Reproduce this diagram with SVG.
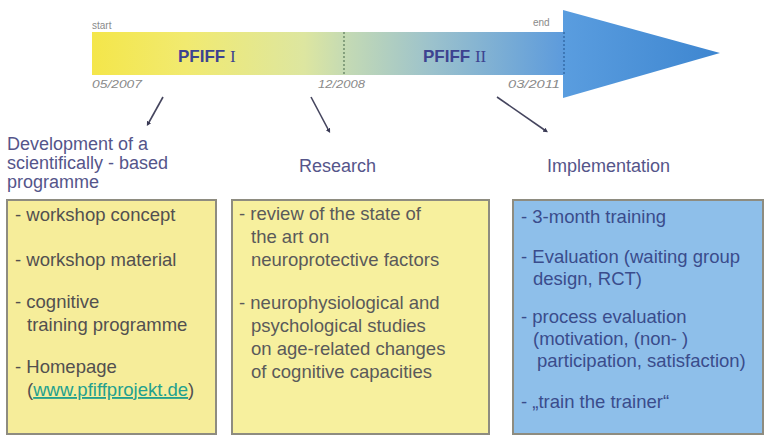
<svg xmlns="http://www.w3.org/2000/svg" width="764" height="436" viewBox="0 0 764 436">
<style>
text{font-family:"Liberation Sans",Arial,sans-serif}
.tl{font-size:10px;fill:#8a8a8a}
.dt{font-size:11px;fill:#8a8a8a;font-style:italic}
.ph{font-size:17px;font-weight:bold;fill:#3d4390}
.rn{font-family:"Liberation Serif","Times New Roman",serif;font-weight:normal}
.hd{font-size:18px;fill:#55558a}
.bx{font-size:18.5px}
.y1{fill:#525050}
.y2{fill:#5a5a5a}
.b3{fill:#3a4c8c}
.link{fill:#23a08e;text-decoration:underline}
.box{stroke:#8e8c80;stroke-width:2}
.con{stroke:#45455e;stroke-width:1.6;fill:none;marker-end:url(#ah)}
</style>
<defs>
<linearGradient id="band" x1="92" y1="0" x2="563" y2="0" gradientUnits="userSpaceOnUse">
<stop offset="0" stop-color="#f4e64a"/>
<stop offset="0.2" stop-color="#f1ea70"/>
<stop offset="0.45" stop-color="#dde6a0"/>
<stop offset="0.54" stop-color="#c4dab4"/>
<stop offset="0.72" stop-color="#9cc2cc"/>
<stop offset="1" stop-color="#5d9bdc"/>
</linearGradient>
<linearGradient id="head" x1="563" y1="0" x2="720" y2="0" gradientUnits="userSpaceOnUse">
<stop offset="0" stop-color="#5a9ddf"/>
<stop offset="1" stop-color="#3e86d0"/>
</linearGradient>
<marker id="ah" viewBox="0 0 6 6" refX="3" refY="3" markerWidth="3" markerHeight="3" orient="auto">
<path d="M0,0 L6,3 L0,6 z" fill="#3a3a55"/>
</marker>
</defs>

<g id="timeline">
<rect x="92" y="32" width="472" height="43" fill="url(#band)"/>
<polygon points="563,10 720,53 563,98" fill="url(#head)"/>
<line x1="344" y1="32" x2="344" y2="75" stroke="#5a7a5a" stroke-width="1.2" stroke-dasharray="2,2"/>
<line x1="564" y1="32" x2="564" y2="75" stroke="#2e5f9a" stroke-width="1.2" stroke-dasharray="2,2"/>
<text class="tl" x="92" y="29">start</text>
<text class="tl" x="533" y="26">end</text>
<text class="dt" x="92" y="88" textLength="50" lengthAdjust="spacingAndGlyphs">05/2007</text>
<text class="dt" x="318" y="88" textLength="47" lengthAdjust="spacingAndGlyphs">12/2008</text>
<text class="dt" x="508" y="88" textLength="52" lengthAdjust="spacingAndGlyphs">03/2011</text>
<text class="ph" x="178" y="62">PFIFF <tspan class="rn">I</tspan></text>
<text class="ph" x="423" y="62">PFIFF <tspan class="rn">II</tspan></text>
</g>

<g id="connectors">
<line class="con" x1="163" y1="97" x2="148" y2="124"/>
<line class="con" x1="311" y1="97" x2="329" y2="131"/>
<line class="con" x1="497" y1="97" x2="546" y2="131"/>
</g>

<g id="development">
<text class="hd" x="7" y="150">Development of a</text>
<text class="hd" x="7" y="169">scientifically - based</text>
<text class="hd" x="7" y="188">programme</text>
<rect class="box" x="7" y="200" width="209" height="234" fill="#f6ed9a"/>
<text class="bx y1" x="15" y="221">- workshop concept</text>
<text class="bx y1" x="15" y="266">- workshop material</text>
<text class="bx y1" x="15" y="308">- cognitive</text>
<text class="bx y1" x="27" y="331">training programme</text>
<text class="bx y1" x="15" y="373">- Homepage</text>
<text class="bx y1" x="27" y="396">(<tspan class="link">www.pfiffprojekt.de</tspan>)</text>
</g>

<g id="research">
<text class="hd" x="299" y="172">Research</text>
<rect class="box" x="232" y="200" width="257" height="234" fill="#f7f09e"/>
<text class="bx y2" x="239" y="220">- review of the state of</text>
<text class="bx y2" x="251" y="243">the art on</text>
<text class="bx y2" x="251" y="266">neuroprotective factors</text>
<text class="bx y2" x="239" y="309">- neurophysiological and</text>
<text class="bx y2" x="251" y="332">psychological studies</text>
<text class="bx y2" x="251" y="355">on age-related changes</text>
<text class="bx y2" x="251" y="378">of cognitive capacities</text>
</g>

<g id="implementation">
<text class="hd" x="547" y="172">Implementation</text>
<rect class="box" x="513" y="200" width="250" height="234" fill="#8ebfea"/>
<text class="bx b3" x="521" y="223">- 3-month training</text>
<text class="bx b3" x="521" y="263">- Evaluation (waiting group</text>
<text class="bx b3" x="533" y="285">design, RCT)</text>
<text class="bx b3" x="521" y="323">- process evaluation</text>
<text class="bx b3" x="533" y="345">(motivation, (non- )</text>
<text class="bx b3" x="537" y="367">participation, satisfaction)</text>
<text class="bx b3" x="521" y="408">- „train the trainer“</text>
</g>
</svg>
